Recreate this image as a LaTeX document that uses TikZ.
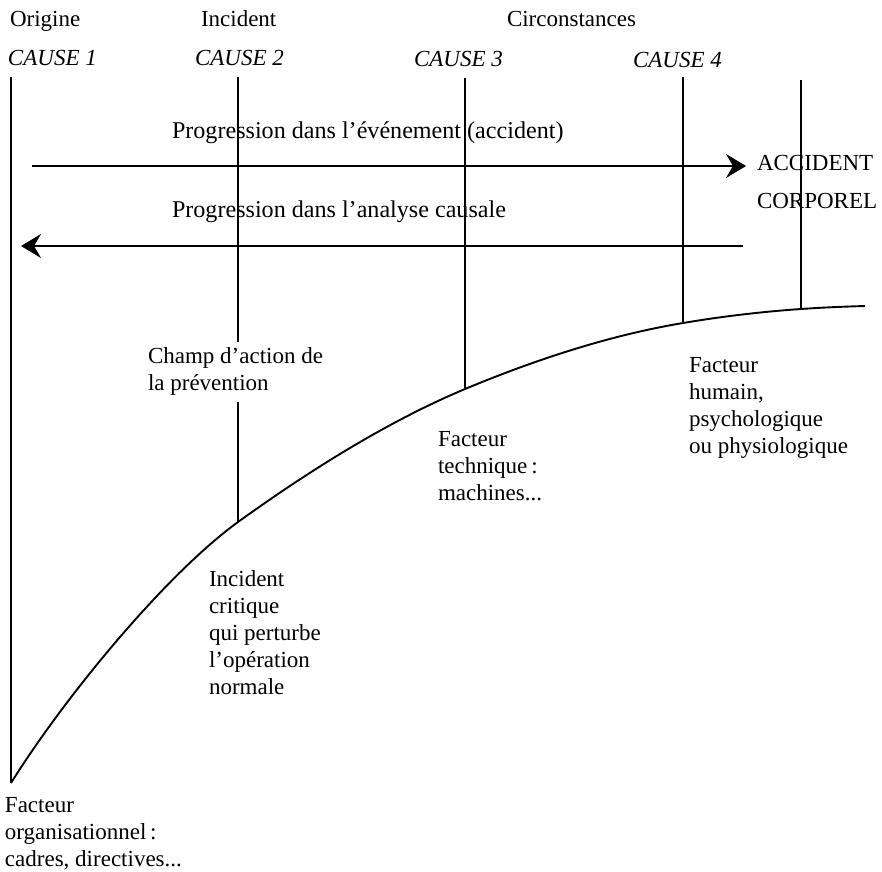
\documentclass[tikz,border=0pt]{standalone}
\usepackage{fontspec}
\setmainfont{Liberation Serif}
\usetikzlibrary{arrows.meta}
\begin{document}
\begin{tikzpicture}[x=1pt,y=-1pt,
  every node/.style={inner sep=0pt,outer sep=0pt},
  lbl/.style={font=\fontsize{23}{27}\selectfont,align=left,anchor=base west},
  prog/.style={font=\fontsize{24.1}{27}\selectfont,anchor=base west},
  blk/.style={font=\fontsize{23}{27}\selectfont,align=left,anchor=north west},
  cause/.style={font=\fontsize{23}{27}\selectfont\itshape,anchor=base west},
  ln/.style={line width=1.9pt},
  arr/.style={line width=1.9pt,-{Stealth[length=20pt,width=24pt,inset=7pt]}}]
\useasboundingbox (0,0) rectangle (882,871);

% top labels
\node[lbl] (orig) at (10,26) {Origine};
\node[lbl] (inc) at (201,26) {Incident};
\node[lbl] (circ) at (507,26) {Circonstances};
\node[cause] (c1) at (8,65) {CAUSE 1};
\node[cause] (c2) at (195,65) {CAUSE 2};
\node[cause] (c3) at (414,66) {CAUSE 3};
\node[cause] (c4) at (633,67) {CAUSE 4};

% curve endpoints
\coordinate (t1) at (11,77);   \coordinate (b1) at (11,783);
\coordinate (t2) at (238,77);  \coordinate (b2) at (238,522);
\coordinate (t3) at (465,78);  \coordinate (b3) at (465,389);
\coordinate (t4) at (683,77);  \coordinate (b4) at (683,323);
\coordinate (t5) at (801,80);  \coordinate (b5) at (801,309);
\coordinate (e)  at (865,306);

\draw[ln] (t1) -- (b1);
\draw[ln] (t2) -- (b2);
\draw[ln] (t3) -- (b3);
\draw[ln] (t4) -- (b4);
\draw[ln] (t5) -- (b5);

\draw[ln,line join=round] (b1)
  .. controls (64,698) and (165,575) .. (b2)
  .. controls (313,468) and (390,420.5) .. (b3)
  .. controls (537,359) and (611,335) .. (b4)
  .. controls (722,316.4) and (762,311.7) .. (b5)
  .. controls (822,307.5) and (844,306.6) .. (e);

% arrows
\coordinate (a1s) at (32,166);  \coordinate (a1e) at (746,166);
\coordinate (a2s) at (743,246); \coordinate (a2e) at (21,246);
\draw[arr] (a1s) -- (a1e);
\draw[arr] (a2s) -- (a2e);
\node[prog] (p1) at (172,138) {Progression dans l’événement (accident)};
\node[prog] (p2) at (172,217) {Progression dans l’analyse causale};

\node[lbl] (acc) at (757,170) {ACCIDENT};
\node[lbl] (corp) at (757,208) {CORPOREL};

% text blocks
\node[blk,fill=white,inner xsep=2pt,inner ysep=6pt] (champ) at (146,342) {Champ d’action de\\la prévention};
\node[blk] (tech) at (438,431) {Facteur\\technique\,:\\machines...};
\node[blk] (hum) at (689,357) {Facteur\\humain,\\psychologique\\ou physiologique};
\node[blk] (crit) at (209,571) {Incident\\critique\\qui perturbe\\l’opération\\normale};
\node[blk] (org) at (5,797) {Facteur\\organisationnel\,:\\cadres, directives...};
\end{tikzpicture}
\end{document}
